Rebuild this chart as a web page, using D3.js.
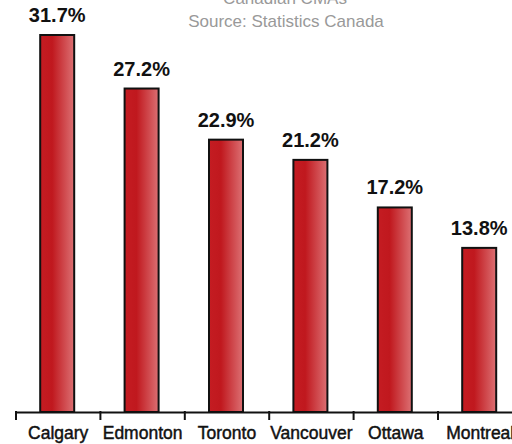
<!DOCTYPE html>
<html><head><meta charset="utf-8">
<script src="https://cdn.jsdelivr.net/npm/d3@7/dist/d3.min.js"></script>
<style>body{margin:0;background:#fff}svg{display:block}</style>
</head><body>
<svg id="c" width="512" height="444"></svg>
<script>
const categories = ["Calgary","Edmonton","Toronto","Vancouver","Ottawa","Montreal"];
const values = [31.7,27.2,22.9,21.2,17.2,13.8];
const valueLabels = ["31.7%","27.2%","22.9%","21.2%","17.2%","13.8%"];
const title = "Canadian CMAs";
const subtitle = "Source: Statistics Canada";

const svg = d3.select("#c");
const font = "'Liberation Sans', Arial, Helvetica, sans-serif";
const defs = svg.append("defs");
const g = defs.append("linearGradient").attr("id","bg").attr("x1","0").attr("x2","1").attr("y1","0").attr("y2","0");
g.append("stop").attr("offset","0%").attr("stop-color","#c41c22");
g.append("stop").attr("offset","35%").attr("stop-color","#c0181e");
g.append("stop").attr("offset","100%").attr("stop-color","#dc7073");

const x = d3.scaleBand().domain(categories).range([16, 16 + 84.4*6]).paddingInner(0).paddingOuter(0);
const y = d3.scaleLinear().domain([0, 31.7]).range([412, 35]);
const bw = 34;

svg.append("text").attr("x",285).attr("y",4).attr("text-anchor","middle")
  .attr("font-family",font).attr("font-size",17).attr("fill","#999").text(title);
svg.append("text").attr("x",286).attr("y",27).attr("text-anchor","middle")
  .attr("font-family",font).attr("font-size",17).attr("fill","#999").text(subtitle);

svg.selectAll("rect.bar").data(values).enter().append("rect").attr("class","bar")
  .attr("x",(d,i)=>x(categories[i]) + x.bandwidth()/2 - bw/2 - 1)
  .attr("y",d=>y(d))
  .attr("width",bw).attr("height",d=>y(0)-y(d))
  .attr("fill","url(#bg)").attr("stroke","#111").attr("stroke-width",2);

svg.selectAll("text.val").data(values).enter().append("text").attr("class","val")
  .attr("x",(d,i)=>x(categories[i]) + x.bandwidth()/2 - 1)
  .attr("y",d=>y(d)-13)
  .attr("text-anchor","middle").attr("font-family",font).attr("font-weight","bold")
  .attr("font-size",20).attr("fill","#111").text((d,i)=>valueLabels[i]);

const axis = d3.axisBottom(x).tickSize(0).tickSizeOuter(0);
const ax = svg.append("g").attr("transform","translate(0,412)").call(axis);
ax.select(".domain").attr("stroke","#111").attr("stroke-width",2);
ax.selectAll(".tick text").attr("font-family",font)
  .attr("font-size",17.5).attr("fill","#111").attr("stroke","#111").attr("stroke-width",0.45)
  .attr("dy",0).attr("y",27);
// band edge ticks
const edges = categories.map(c=>x(c)).concat([x.range()[1]]);
svg.selectAll("line.edge").data(edges).enter().append("line").attr("class","edge")
  .attr("x1",d=>d).attr("x2",d=>d).attr("y1",411).attr("y2",420)
  .attr("stroke","#111").attr("stroke-width",2);
</script>
</body></html>
